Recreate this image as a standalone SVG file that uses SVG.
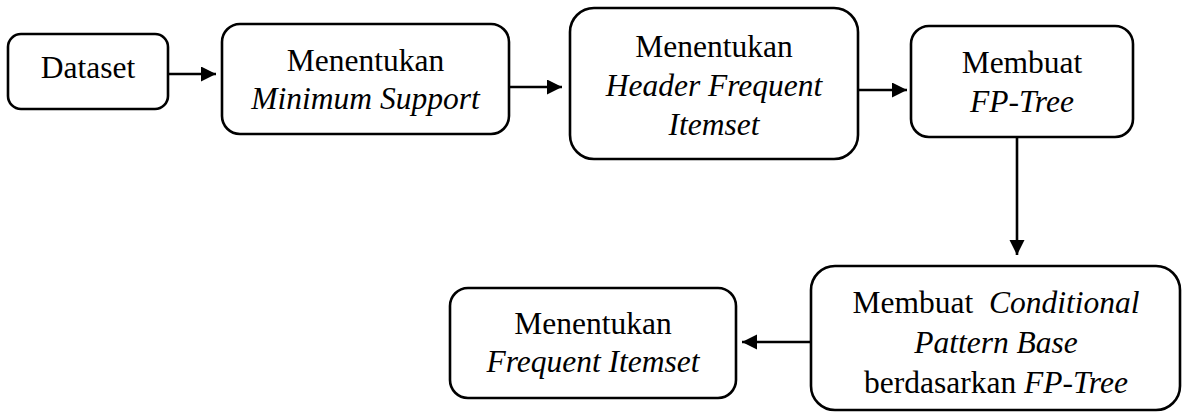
<svg xmlns="http://www.w3.org/2000/svg" width="1187" height="412" viewBox="0 0 1187 412">
<style>
.box{fill:#fff;stroke:#000;stroke-width:2.6}
.i{font-style:italic}
.c{fill:none;stroke:#000;stroke-width:2.6;marker-end:url(#ah)}
</style>
<defs>
<marker id="ah" markerUnits="userSpaceOnUse" markerWidth="16" markerHeight="16" refX="15" refY="7.5" orient="auto">
<path d="M0,0 L15,7.5 L0,15 z" fill="#000"/>
</marker>
</defs>
<rect width="1187" height="412" fill="#fff"/>
<g id="connectors">
<path class="c" d="M168,74 H216"/>
<path class="c" d="M509,87 H562"/>
<path class="c" d="M858,90 H907"/>
<path class="c" d="M1017,137 V255"/>
<path class="c" d="M811,342 H742"/>
</g>
<g font-family="Liberation Serif, Times New Roman, serif" font-size="31.5" text-anchor="middle" fill="#000">
<g id="dataset">
<rect class="box" x="8" y="34" width="160" height="75" rx="13"/>
<text x="88" y="78">Dataset</text>
</g>
<g id="minsupport">
<rect class="box" x="222" y="24" width="287" height="110" rx="18"/>
<text x="365.5" y="71">Menentukan</text>
<text class="i" x="365.5" y="109">Minimum Support</text>
</g>
<g id="header">
<rect class="box" x="570" y="8" width="288" height="151" rx="24"/>
<text x="714" y="57">Menentukan</text>
<text class="i" x="714" y="96">Header Frequent</text>
<text class="i" x="714" y="135">Itemset</text>
</g>
<g id="fptree">
<rect class="box" x="911" y="26" width="222" height="111" rx="18"/>
<text x="1022" y="73">Membuat</text>
<text class="i" x="1022" y="112">FP-Tree</text>
</g>
<g id="conditional">
<rect class="box" x="811" y="266" width="369" height="144" rx="24"/>
<text x="996" y="313">Membuat <tspan class="i" dx="8">Conditional</tspan></text>
<text class="i" x="996" y="353">Pattern Base</text>
<text x="996" y="393">berdasarkan <tspan class="i">FP-Tree</tspan></text>
</g>
<g id="frequent">
<rect class="box" x="450" y="288" width="286" height="110" rx="18"/>
<text x="593" y="334">Menentukan</text>
<text class="i" x="593" y="372">Frequent Itemset</text>
</g>
</g>
</svg>
